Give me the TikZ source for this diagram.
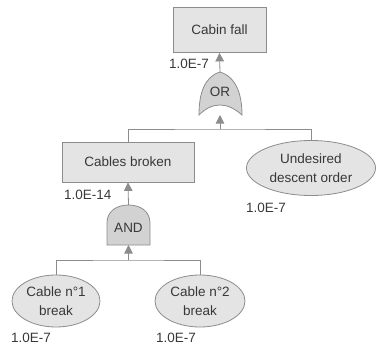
\documentclass[tikz,border=0pt]{standalone}
\usepackage{fontspec}
\setmainfont{Liberation Sans}
\usetikzlibrary{arrows.meta,shapes.geometric}
\definecolor{edge}{HTML}{8C8C8C}
\definecolor{boxfill}{HTML}{E4E4E4}
\definecolor{gatefill}{HTML}{D2D2D2}
\definecolor{txt}{HTML}{383838}
\tikzset{
  every node/.style={font=\fontsize{13.5}{19}\selectfont, text=txt},
  eventbox/.style={draw=edge, fill=boxfill, rectangle, inner sep=0pt, line width=0.8pt},
  basic/.style={draw=edge, fill=boxfill, ellipse, inner sep=0pt, line width=0.8pt, align=center},
  gatelbl/.style={inner sep=0pt, minimum width=43pt},
  gateshape/.style={draw=edge, fill=gatefill, line width=0.8pt},
  prob/.style={anchor=west, inner sep=0pt},
  conn/.style={draw=edge, line width=0.8pt},
  arr/.style={conn, -{Triangle[length=8.5pt,width=8.5pt]}},
}
\begin{document}
\begin{tikzpicture}[x=1pt,y=-1pt]
\useasboundingbox (0,0) rectangle (376,349);
% events
\node[eventbox, minimum width=93pt, minimum height=45pt] (cabin) at (219.5,30) {Cabin fall};
\node[eventbox, minimum width=132pt, minimum height=40pt] (cables) at (128,162) {Cables broken};
\node[basic, minimum width=129pt, minimum height=55pt] (order) at (311,168) {Undesired\\descent order};
\node[basic, minimum width=88pt, minimum height=52pt] (c1) at (56,301) {Cable n°1\\break};
\node[basic, minimum width=90pt, minimum height=52pt] (c2) at (200,301) {Cable n°2\\break};
% OR gate
\coordinate (ortop) at (220,72);
\coordinate (orbot) at (220,105);
\path[gateshape] (ortop) .. controls (236,77) and (242,94) .. (242,115)
  .. controls (234,108) and (227,105) .. (orbot)
  .. controls (213,105) and (206,108) .. (199,115)
  .. controls (199,94) and (204,77) .. (ortop) -- cycle;
\node[gatelbl] (or) at (220,92) {OR};
% AND gate
\coordinate (andtop) at (128.5,205);
\coordinate (andbot) at (128.5,245);
\path[gateshape] (107,245) -- (107,223) .. controls (107,211) and (117,205) .. (andtop)
  .. controls (140,205) and (150,211) .. (150,223) -- (150,245) -- cycle;
\node[gatelbl] (and) at (128.5,228) {AND};
% junctions
\coordinate (jor) at (220,129);
\coordinate (jand) at (128.5,260);
% connectors
\draw[arr] (ortop) -- (cabin.south);
\draw[arr] (jor) -- (220,115);
\draw[conn] (cables.north) |- (jor) -| (order.north);
\draw[arr] (andtop) -- (cables.south);
\draw[arr] (jand) -- (andbot);
\draw[conn] (c1.north) |- (jand) -| (c2.north);
% probabilities
\node[prob] (p0) at (169,64) {1.0E-7};
\node[prob] (p1) at (64,195) {1.0E-14};
\node[prob] (p2) at (246,208) {1.0E-7};
\node[prob] (p3) at (11,338) {1.0E-7};
\node[prob] (p4) at (156,338) {1.0E-7};
\end{tikzpicture}
\end{document}
